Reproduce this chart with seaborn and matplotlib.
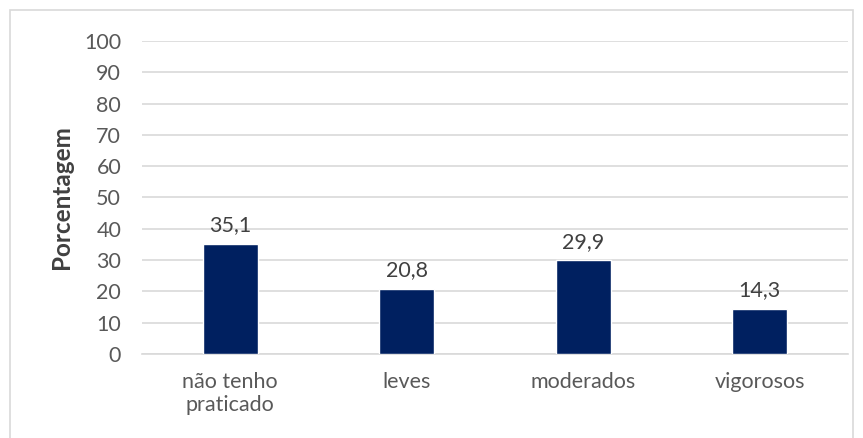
import matplotlib
matplotlib.use('Agg')
import matplotlib.pyplot as plt
import matplotlib.patches as patches
import pandas as pd
import seaborn as sns

categories = ['não tenho\npraticado', 'leves', 'moderados', 'vigorosos']
percentages = [35.1, 20.8, 29.9, 14.3]
value_labels = ['35,1', '20,8', '29,9', '14,3']
y_ticks = list(range(0, 101, 10))

df = pd.DataFrame({'categoria': categories, 'porcentagem': percentages})

sns.set_theme(style='white')
plt.rcParams['font.family'] = ['Lato', 'DejaVu Sans']

fig = plt.figure(figsize=(8.63, 4.38), dpi=100)
ax = fig.add_axes([0.1645, 0.1918, 0.8181, 0.7146])

sns.barplot(data=df, x='categoria', y='porcentagem', color='#002060',
            width=0.31, saturation=1, ax=ax, zorder=3)

for i, (v, lab) in enumerate(zip(percentages, value_labels)):
    ax.text(i, v + 2.8, lab, ha='center', va='bottom', fontsize=15.5, color='#404040')

ax.set_ylim(0, 100)
ax.set_yticks(y_ticks)
ax.set_xlim(-0.5, len(categories) - 0.5)
ax.yaxis.grid(True, color='#d9d9d9', linewidth=1.2, zorder=0)
ax.set_axisbelow(True)
for side in ['top', 'right', 'left']:
    ax.spines[side].set_visible(False)
ax.spines['bottom'].set_color('#d9d9d9')
ax.spines['bottom'].set_linewidth(1.2)
ax.tick_params(axis='both', length=0, labelsize=15.5, labelcolor='#595959')
ax.tick_params(axis='y', pad=15)
ax.tick_params(axis='x', pad=13)
ax.set_xlabel('')
ax.set_ylabel('Porcentagem', fontsize=17.5, fontweight='bold', color='#404040', labelpad=8)

# light frame around the chart area
fig.patches.append(patches.Rectangle((10 / 863, -0.01), 843 / 863, 1 - 10 / 438 + 0.01,
                                     transform=fig.transFigure, fill=False,
                                     edgecolor='#d9d9d9', linewidth=1.2))

fig.savefig('out.png', dpi=100)
